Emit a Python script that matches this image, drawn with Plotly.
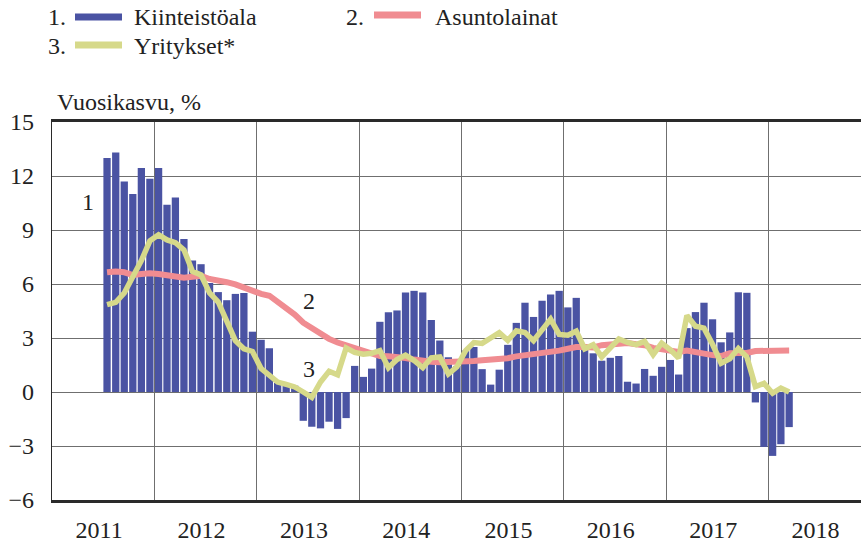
import plotly.graph_objects as go
import pandas as pd

# Monthly observations, July 2011 - March 2018
months = pd.date_range("2011-07-01", periods=81, freq="MS").strftime("%Y-%m-%d").tolist()

series_names = ["Kiinteistöala", "Asuntolainat", "Yritykset*"]

kiinteistoala = [
    13.0, 13.3, 11.7, 11.0, 12.45, 11.85,                                   # 2011 H2
    12.45, 10.4, 10.8, 8.5, 7.3, 7.1, 6.05, 5.55, 5.1, 5.45, 5.5, 3.35,     # 2012
    2.9, 2.43, 0.5, 0.4, 0.35, -1.6, -1.93, -2.02, -1.65, -2.05, -1.45, 1.45,  # 2013
    0.84, 1.3, 3.9, 4.43, 4.53, 5.53, 5.62, 5.53, 4.0, 2.86, 1.93, 1.45,   # 2014
    2.3, 2.5, 1.27, 0.41, 1.24, 2.62, 3.84, 4.96, 4.17, 5.07, 5.42, 5.62,  # 2015
    4.7, 5.23, 2.4, 2.15, 1.74, 1.9, 2.0, 0.57, 0.47, 1.28, 0.9, 1.4,      # 2016
    1.78, 0.97, 3.55, 4.44, 4.96, 4.04, 2.76, 3.31, 5.54, 5.51, -0.58, -3.05,  # 2017
    -3.55, -2.9, -1.95,                                                     # 2018
]

asuntolainat = [
    6.65, 6.7, 6.65, 6.5, 6.55, 6.6,
    6.55, 6.5, 6.46, 6.35, 6.4, 6.46, 6.28, 6.22, 6.1, 5.98, 5.8, 5.6,
    5.45, 5.35, 5.0, 4.7, 4.3, 3.85, 3.55, 3.33, 2.95, 2.75, 2.6, 2.4,
    2.25, 2.1, 2.0, 1.98, 1.95, 1.89, 1.8, 1.72, 1.68, 1.65, 1.65, 1.66,
    1.72, 1.72, 1.76, 1.78, 1.8, 1.88, 1.98, 2.03, 2.07, 2.15, 2.22, 2.3,
    2.4, 2.5, 2.5, 2.48, 2.6, 2.63, 2.7, 2.72, 2.65, 2.6, 2.45, 2.4,
    2.35, 2.22, 2.3, 2.2, 2.11, 2.05, 2.0, 2.15, 2.17, 2.17, 2.28, 2.28,
    2.27, 2.28, 2.3,
]

yritykset = [
    4.85, 4.98, 5.5, 6.4, 7.3, 8.4,
    8.74, 8.45, 8.3, 7.9, 6.7, 6.5, 5.5, 5.0, 4.0, 2.85, 2.4, 2.25,
    1.3, 0.9, 0.55, 0.42, 0.28, 0.0, -0.3, 0.56, 1.15, 0.95, 2.45, 2.2,
    2.1, 2.15, 2.3, 1.35, 1.8, 2.05, 1.75, 1.35, 1.9, 1.95, 1.0, 1.4,
    2.3, 2.75, 2.7, 3.0, 3.3, 2.87, 3.4, 3.3, 2.85, 3.45, 4.05, 3.2,
    3.15, 3.38, 2.4, 2.63, 1.95, 2.45, 2.95, 2.75, 2.63, 2.81, 2.07, 2.72,
    2.35, 1.89, 4.25, 3.65, 3.55, 2.65, 1.6, 1.85, 2.42, 1.95, 0.3, 0.48,
    -0.07, 0.22, 0.0,
]

BLUE = "#4a53a3"
PINK = "#f08c91"
YELLOW = "#d6d98a"
FONT = "Liberation Serif, Tinos, Times New Roman, DejaVu Serif, serif"
TXT = "#222222"
DAY_MS = 86400000

fig = go.Figure()
fig.add_trace(go.Bar(
    x=months, y=kiinteistoala, name=series_names[0],
    xperiod="M1", xperiodalignment="middle",
    width=26 * DAY_MS, marker=dict(color=BLUE, line=dict(width=0)),
    showlegend=False,
))
fig.add_trace(go.Scatter(
    x=months, y=asuntolainat, name=series_names[1], mode="lines",
    xperiod="M1", xperiodalignment="middle",
    line=dict(color=PINK, width=6), showlegend=False,
))
fig.add_trace(go.Scatter(
    x=months, y=yritykset, name=series_names[2], mode="lines",
    xperiod="M1", xperiodalignment="middle",
    line=dict(color=YELLOW, width=5.5), showlegend=False,
))

L, R, T, B = 52, 0, 122, 42
W, H = 861, 542
PW, PH = W - L - R, H - T - B


def px_x(px):
    return (px - L) / PW


def px_y(py):
    return (H - B - py) / PH


shapes = []
annotations = []
# legend keys
for (x0, x1, yy, col) in [(75, 122, 17, BLUE), (374, 421, 15, PINK), (75, 122, 45, YELLOW)]:
    shapes.append(dict(type="line", xref="paper", yref="paper",
                       x0=px_x(x0), x1=px_x(x1), y0=px_y(yy), y1=px_y(yy),
                       line=dict(color=col, width=7)))

legend_texts = [
    ("1.", 68, 17, "right"), (series_names[0], 132, 17, "left"),
    ("2.", 366, 17, "right"), (series_names[1], 433, 17, "left"),
    ("3.", 68, 46, "right"), (series_names[2], 132, 46, "left"),
    ("Vuosikasvu, %", 55, 102, "left"),
]
for txt, xx, yy, anc in legend_texts:
    annotations.append(dict(text=txt, xref="paper", yref="paper",
                            x=px_x(xx), y=px_y(yy), xanchor=anc, yanchor="middle",
                            showarrow=False, font=dict(family=FONT, size=24, color=TXT)))

# series number labels inside the plot
for txt, xd, yd in [("1", "2011-05-08", 10.55), ("2", "2013-07-05", 5.06), ("3", "2013-07-05", 1.28)]:
    annotations.append(dict(text=txt, x=xd, y=yd, xref="x", yref="y", showarrow=False,
                            font=dict(family=FONT, size=24, color=TXT)))

fig.update_layout(
    width=W, height=H,
    margin=dict(l=L, r=R, t=T, b=B, pad=0),
    paper_bgcolor="white", plot_bgcolor="white",
    font=dict(family=FONT, size=24, color=TXT),
    bargap=0.14,
    shapes=shapes, annotations=annotations,
    showlegend=False,
)
fig.update_xaxes(
    type="date", range=["2011-01-01", "2018-11-28"],
    tick0="2011-01-01", dtick="M12", tickformat="%Y", ticklabelmode="period",
    showgrid=True, gridcolor="#6f6f6f", gridwidth=1.2,
    showline=True, mirror=True, linecolor="#2a2a2a", linewidth=2.5,
    ticks="", ticklabelstandoff=6, ticklabelshift=-4,
    tickfont=dict(family=FONT, size=24, color=TXT),
)
fig.update_yaxes(
    range=[-6, 15], tick0=0, dtick=3,
    showgrid=True, gridcolor="#6f6f6f", gridwidth=1.2,
    zeroline=True, zerolinecolor="#6f6f6f", zerolinewidth=1.2,
    showline=True, linecolor="#2a2a2a", linewidth=1.2,
    ticks="", ticklabelstandoff=12,
    tickfont=dict(family=FONT, size=24, color=TXT),
)

fig.write_html(
    "out.html",
    config={"displayModeBar": False},
    post_script="document.body.style.margin='0';document.body.style.overflow='hidden';",
)
